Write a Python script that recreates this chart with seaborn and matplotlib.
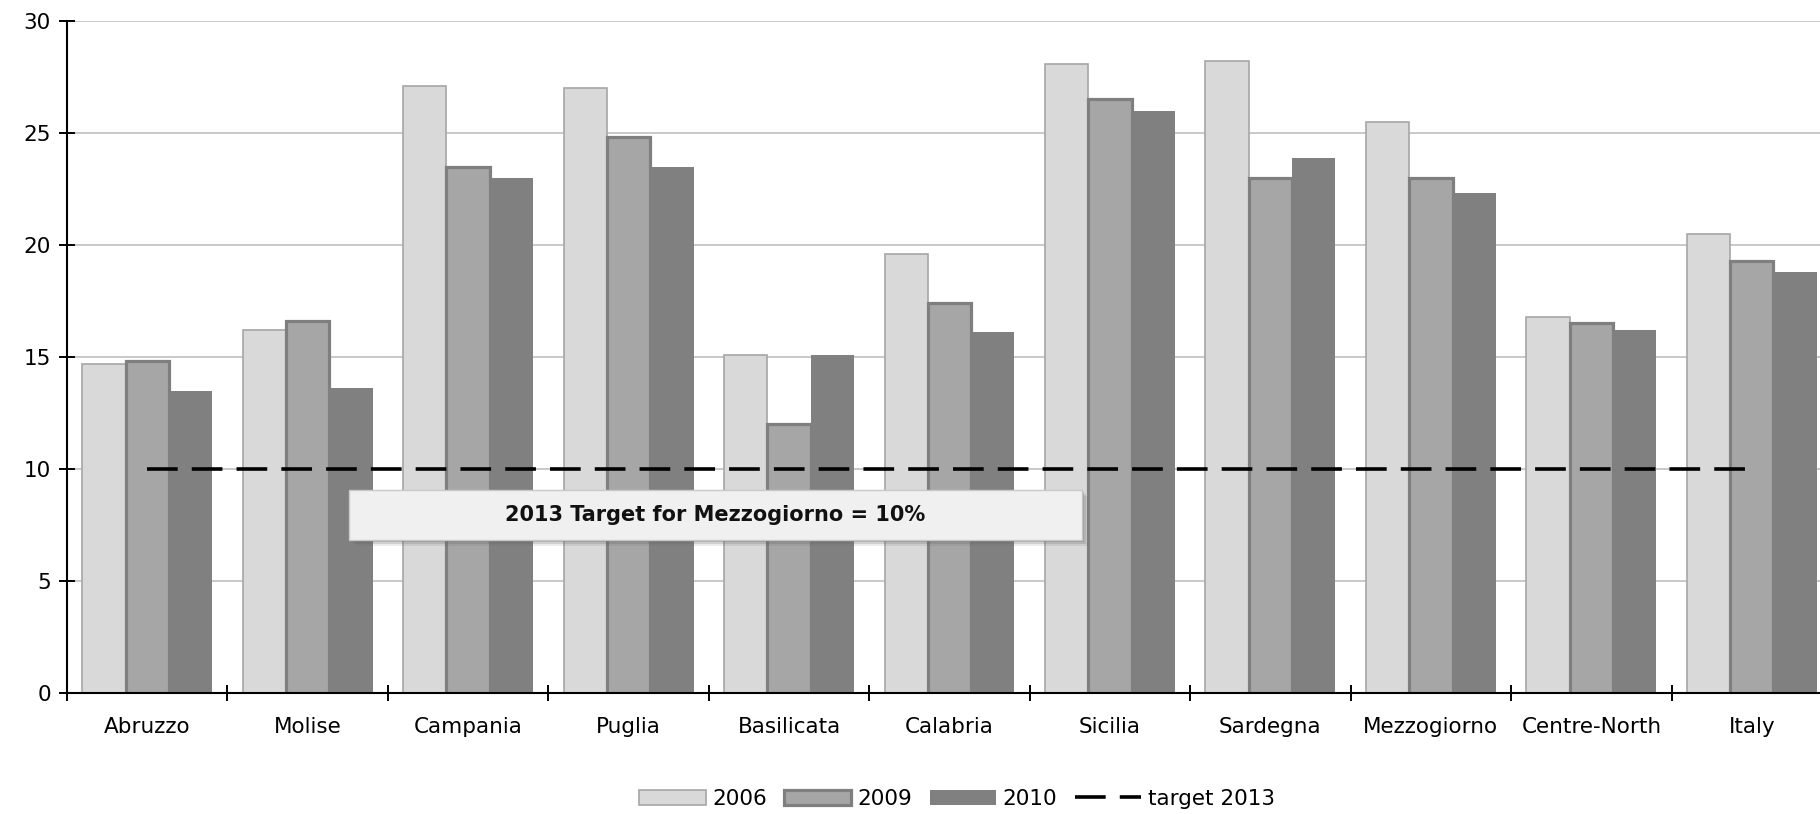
import numpy as np
import pandas as pd
import matplotlib
matplotlib.use("Agg")
import matplotlib.pyplot as plt
import matplotlib.transforms as mtransforms
from matplotlib.patches import Patch, Rectangle
from matplotlib.lines import Line2D
import seaborn as sns

# Data: share of early school leavers (%) by region
regions = ["Abruzzo", "Molise", "Campania", "Puglia", "Basilicata", "Calabria",
           "Sicilia", "Sardegna", "Mezzogiorno", "Centre-North", "Italy"]
years = ["2006", "2009", "2010"]
v2006 = [14.7, 16.2, 27.1, 27.0, 15.1, 19.6, 28.1, 28.2, 25.5, 16.8, 20.5]
v2009 = [14.8, 16.6, 23.5, 24.8, 12.0, 17.4, 26.5, 23.0, 23.0, 16.5, 19.3]
v2010 = [13.5, 13.6, 23.0, 23.5, 15.1, 16.1, 26.0, 23.9, 22.3, 16.2, 18.8]
target_2013 = [10, 10, 10, 10, 10, 10, 10, 10, 10, 10, 10]
yticks = [0, 5, 10, 15, 20, 25, 30]
note = "2013 Target for Mezzogiorno = 10%"

df = pd.DataFrame({
    "region": regions * 3,
    "year": [y for y in years for _ in regions],
    "value": v2006 + v2009 + v2010,
})

sns.set_style("white")
plt.rcParams["font.family"] = ["DejaVu Sans"]
plt.rcParams["text.color"] = "black"
plt.rcParams["xtick.color"] = "black"
plt.rcParams["ytick.color"] = "black"

fills = {"2006": "#d9d9d9", "2009": "#a6a6a6", "2010": "#808080"}
edges = {"2006": ("#a6a6a6", 1.2), "2009": ("#7f7f7f", 2.3), "2010": ("#808080", 0.0)}

W, H = 1820, 814
fig = plt.figure(figsize=(W / 100, H / 100), dpi=100)
ax = fig.add_axes([67 / W, 1 - 693 / H, 1765 / W, 672 / H])

sns.barplot(data=df, x="region", y="value", hue="year", order=regions,
            hue_order=years, palette=fills, saturation=1, width=0.81,
            ax=ax, legend=False, zorder=2)

for cont, yr in zip(ax.containers, years):
    ec, lw = edges[yr]
    for bar in cont:
        bar.set_edgecolor(ec)
        bar.set_linewidth(lw)

# target line through the category centres
ax.plot(np.arange(len(regions)), target_2013, color="black", lw=2.6,
        dashes=(8.5, 3.9), zorder=4, dash_capstyle="butt")

ax.set_xlim(-0.5, len(regions) - 0.5)
ax.set_ylim(0, 30)
ax.set_yticks(yticks)
ax.yaxis.grid(True, color="#c0c0c0", lw=1.2, zorder=0)
ax.set_axisbelow(True)
ax.set_xlabel("")
ax.set_ylabel("")

ax.set_xticks(np.arange(-0.5, len(regions), 1))
ax.set_xticklabels([])
ax.set_xticks(np.arange(len(regions)), minor=True)
ax.set_xticklabels(regions, minor=True, fontsize=15.5)
ax.tick_params(axis="x", which="major", bottom=True, direction="inout",
               length=11, width=1.4, color="black")
ax.tick_params(axis="x", which="minor", bottom=True, length=0, pad=17,
               labelcolor="black")
ax.tick_params(axis="y", left=True, direction="inout", length=11, width=1.4,
               color="black", labelsize=15.5, pad=6, labelcolor="black")

for side in ("top", "right"):
    ax.spines[side].set_visible(False)
for side in ("left", "bottom"):
    ax.spines[side].set_color("black")
    ax.spines[side].set_linewidth(1.5)
    ax.spines[side].set_zorder(5)

# note box with drop shadow
x0, x1, y0, y1 = 1.257, 5.824, 6.83, 9.06
for k, a in ((6, 0.12), (4, 0.2), (2, 0.3)):
    sh = mtransforms.offset_copy(ax.transData, fig=fig, x=k, y=-k, units="dots")
    ax.add_patch(Rectangle((x0, y0), x1 - x0, y1 - y0, transform=sh,
                           facecolor="#606060", edgecolor="none", alpha=a, zorder=5))
ax.add_patch(Rectangle((x0, y0), x1 - x0, y1 - y0, facecolor="#f0f0f0",
                       edgecolor="#c8c8c8", lw=1, zorder=6))
ax.text((x0 + x1) / 2, (y0 + y1) / 2, note, ha="center", va="center",
        fontsize=15, fontweight="bold", color="#111111", zorder=7)

handles = [
    Patch(facecolor=fills["2006"], edgecolor=edges["2006"][0], lw=edges["2006"][1]),
    Patch(facecolor=fills["2009"], edgecolor=edges["2009"][0], lw=edges["2009"][1]),
    Patch(facecolor=fills["2010"], edgecolor=edges["2010"][0], lw=0),
    Line2D([0], [0], color="black", lw=2.6, dashes=(8.5, 3.9)),
]
labels = years + ["target 2013"]
fig.legend(handles, labels, loc="center", bbox_to_anchor=(957 / W, 1 - 799 / H),
           ncol=4, frameon=False, fontsize=15.5, handlelength=3.1,
           handleheight=0.75, handletextpad=0.3, columnspacing=0.8,
           labelcolor="black")

fig.savefig("out.png", dpi=100)
